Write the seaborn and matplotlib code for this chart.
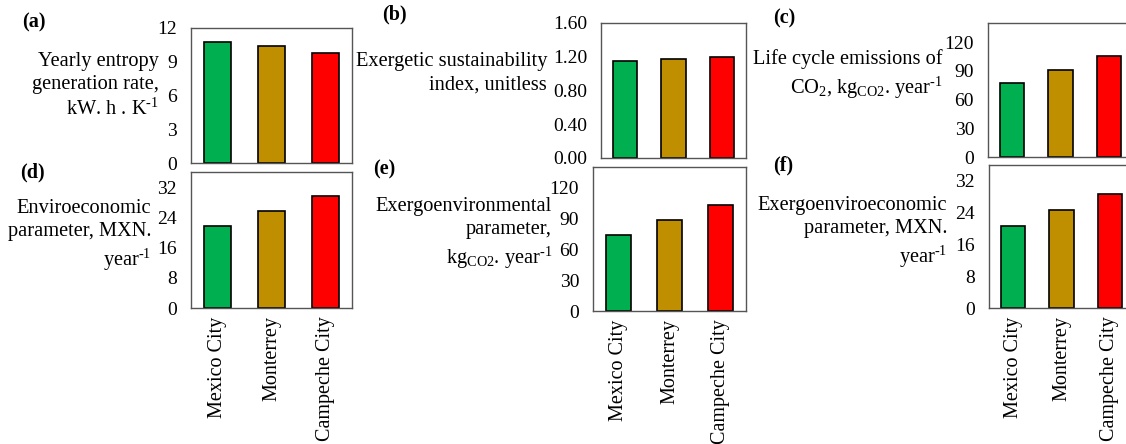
import numpy as np
import pandas as pd
import matplotlib
matplotlib.use("Agg")
import matplotlib.pyplot as plt
import seaborn as sns

# data
cities = ["Mexico City", "Monterrey", "Campeche City"]
colors = ["#00B050", "#BF8F00", "#FF0000"]

entropy_rate = [10.75, 10.4, 9.8]
sustain_index = [1.15, 1.17, 1.20]
lifecycle_co2 = [77, 91, 105]
enviroeco = [21.6, 25.6, 29.7]
exergoenv = [74, 88, 103]
exergoenviroeco = [20.7, 24.7, 28.6]

sns.set_style("white")
plt.rcParams['font.family'] = ['Liberation Serif', 'DejaVu Serif']
plt.rcParams['mathtext.fontset'] = 'custom'
plt.rcParams['mathtext.rm'] = 'Liberation Serif'
plt.rcParams['mathtext.it'] = 'Liberation Serif:italic'
plt.rcParams['mathtext.bf'] = 'Liberation Serif:bold'
plt.rcParams['text.color'] = 'black'
plt.rcParams['xtick.color'] = 'black'
plt.rcParams['ytick.color'] = 'black'

W, H = 1126, 444
fig = plt.figure(figsize=(W / 100, H / 100), dpi=100)

HY = "\u2010"  # plain hyphen for the superscript, like the original
INV = "$^{" + HY + "1}$"


def box(x0, y0, x1, y1):
    return [x0 / W, 1 - y1 / H, (x1 - x0) / W, (y1 - y0) / H]


panels = [
    # letter, values, box, ylim, ticks, fmt, label, label pos, letter pos, xlabels
    ("(a)", entropy_rate, (191, 28, 352, 163), 12, np.arange(0, 13, 3), "{:.0f}",
     "Yearly entropy\ngeneration rate,\nkW. h . K" + INV, (159, 86), (22, 22), False),
    ("(b)", sustain_index, (601, 23, 746, 158), 1.6, np.arange(0, 1.61, 0.4), "{:.2f}",
     "Exergetic sustainability\nindex, unitless", (547, 73), (382, 14), False),
    ("(c)", lifecycle_co2, (988, 23, 1133, 157), 140, np.arange(0, 121, 30), "{:.0f}",
     "Life cycle emissions of\nCO$_2$, kg$_{\\mathrm{CO2}}$. year" + INV, (943, 75), (773, 18), False),
    ("(d)", enviroeco, (191, 172, 352, 308), 36, np.arange(0, 33, 8), "{:.0f}",
     "Enviroeconomic\nparameter, MXN.\nyear" + INV, (151, 236), (20, 172), True),
    ("(e)", exergoenv, (593, 167, 746, 311), 140, np.arange(0, 121, 30), "{:.0f}",
     "Exergoenvironmental\nparameter,\nkg$_{\\mathrm{CO2}}$. year" + INV, (552, 234), (373, 169), True),
    ("(f)", exergoenviroeco, (989, 165, 1134, 308), 36, np.arange(0, 33, 8), "{:.0f}",
     "Exergoenviroeconomic\nparameter, MXN.\nyear" + INV, (947, 233), (773, 165), True),
]

for letter, vals, bx, ytop, ticks, fmt, label, lpos, ppos, show_x in panels:
    ax = fig.add_axes(box(*bx))
    df = pd.DataFrame({"city": cities, "value": vals})
    sns.barplot(data=df, x="city", y="value", hue="city", palette=colors,
                legend=False, width=0.5, edgecolor="black", linewidth=1.2,
                saturation=1, ax=ax)
    ax.set_ylim(0, ytop)
    ax.set_xlim(-0.5, 2.5)
    ax.set_yticks(ticks)
    ax.set_yticklabels([fmt.format(t) for t in ticks])
    ax.set_xlabel("")
    ax.set_ylabel("")
    ax.tick_params(axis="y", length=0, pad=10, labelsize=14, labelcolor="black")
    ax.tick_params(axis="x", length=0, pad=6, labelsize=14.5, labelcolor="black")
    if show_x:
        ax.set_xticks(range(3))
        ax.set_xticklabels(cities, rotation=90)
    else:
        ax.set_xticklabels([])
    for s in ax.spines.values():
        s.set_color("#555555")
        s.set_linewidth(1.0)
    fig.text(lpos[0] / W, 1 - lpos[1] / H, label, ha="right", va="center",
             multialignment="right", fontsize=14.7, linespacing=1.3)
    fig.text(ppos[0] / W, 1 - ppos[1] / H, letter, ha="left", va="center",
             fontsize=14.5, fontweight="bold")

fig.savefig("out.png", dpi=100)
